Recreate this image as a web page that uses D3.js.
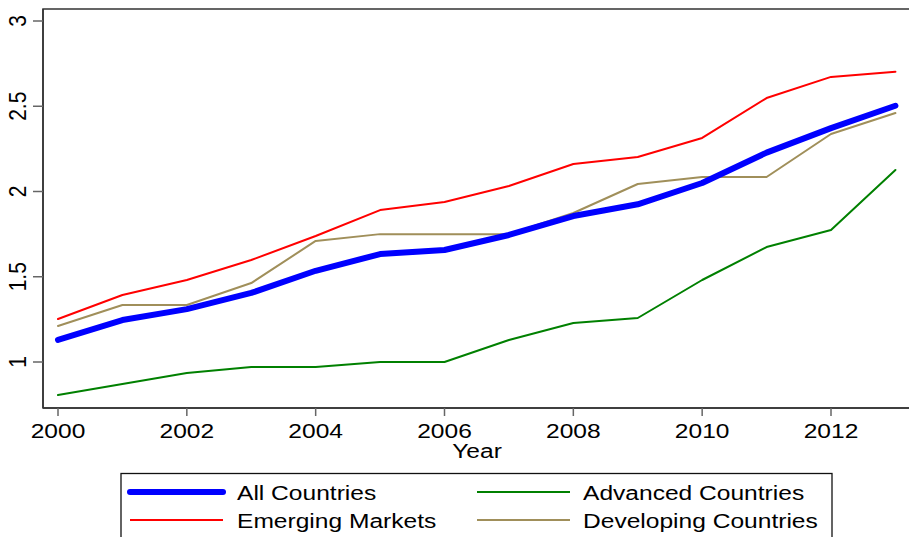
<!DOCTYPE html>
<html>
<head>
<meta charset="utf-8">
<script src="https://cdn.jsdelivr.net/npm/d3@7"></script>
<style>
  html, body { margin: 0; padding: 0; background: #fff; }
  svg { display: block; }
  text { font-family: "Liberation Sans", Arial, sans-serif; fill: #000; }
</style>
</head>
<body>
<svg id="chart" width="909" height="537"></svg>
<script>
const years = [2000, 2001, 2002, 2003, 2004, 2005, 2006, 2007, 2008, 2009, 2010, 2011, 2012, 2013];
const allCountries = [1.13, 1.246, 1.31, 1.405, 1.535, 1.633, 1.657, 1.745, 1.856, 1.925, 2.05, 2.228, 2.372, 2.503];
const emergingMarkets = [1.252, 1.393, 1.481, 1.598, 1.739, 1.891, 1.938, 2.032, 2.161, 2.202, 2.314, 2.548, 2.672, 2.703];
const advancedCountries = [0.806, 0.871, 0.935, 0.971, 0.971, 1.0, 1.0, 1.129, 1.229, 1.258, 1.481, 1.674, 1.774, 2.126];
const developingCountries = [1.211, 1.334, 1.334, 1.463, 1.71, 1.75, 1.75, 1.75, 1.874, 2.044, 2.085, 2.085, 2.337, 2.46];
const xTicks = [2000, 2002, 2004, 2006, 2008, 2010, 2012];
const yTicks = [1, 1.5, 2, 2.5, 3];
const yTickLabels = ["1", "1.5", "2", "2.5", "3"];
const xTitle = "Year";

const seriesList = [
  { name: "All Countries", values: allCountries, color: "#0000ff", width: 6 },
  { name: "Emerging Markets", values: emergingMarkets, color: "#ff0000", width: 2 },
  { name: "Advanced Countries", values: advancedCountries, color: "#008000", width: 2 },
  { name: "Developing Countries", values: developingCountries, color: "#a08f5a", width: 2 }
];

const svg = d3.select("#chart");
const SX = 1.17; // horizontal stretch of text in reference
const FS = 21;

const plotLeft = 43, plotTop = 9, plotBottom = 408, plotRight = 915;
const x = d3.scaleLinear().domain([2000, 2012]).range([58, 831]);
const y = d3.scaleLinear().domain([1, 3]).range([362, 21]);

// frame
svg.append("rect")
  .attr("x", plotLeft).attr("y", plotTop)
  .attr("width", plotRight - plotLeft).attr("height", plotBottom - plotTop)
  .attr("fill", "none").attr("stroke", "#333").attr("stroke-width", 1.5);

// lines (draw order: developing, advanced, emerging, all on top)
const line = d3.line().x((d, i) => x(years[i])).y(d => y(d));
const drawOrder = [3, 2, 1, 0];
drawOrder.forEach(k => {
  const s = seriesList[k];
  svg.append("path")
    .datum(s.values)
    .attr("d", line)
    .attr("fill", "none")
    .attr("stroke", s.color)
    .attr("stroke-width", s.width)
    .attr("stroke-linejoin", "round")
    .attr("stroke-linecap", "round");
});

// y axis
const yAxis = svg.append("g");
yAxis.append("line").attr("x1", plotLeft).attr("x2", plotLeft)
  .attr("y1", plotTop).attr("y2", plotBottom).attr("stroke", "#333").attr("stroke-width", 1.5);
yTicks.forEach((t, i) => {
  yAxis.append("line").attr("x1", 33).attr("x2", plotLeft)
    .attr("y1", y(t)).attr("y2", y(t)).attr("stroke", "#666").attr("stroke-width", 1.5);
  yAxis.append("text")
    .attr("transform", `translate(25.5,${y(t)}) scale(${SX},1) rotate(-90)`)
    .attr("text-anchor", "middle")
    .style("font-size", FS + "px")
    .text(yTickLabels[i]);
});

// x axis
const xAxis = svg.append("g");
xAxis.append("line").attr("x1", plotLeft).attr("x2", plotRight)
  .attr("y1", plotBottom).attr("y2", plotBottom).attr("stroke", "#333").attr("stroke-width", 1.5);
xTicks.forEach(t => {
  xAxis.append("line").attr("x1", x(t)).attr("x2", x(t))
    .attr("y1", plotBottom).attr("y2", plotBottom + 8).attr("stroke", "#666").attr("stroke-width", 1.5);
  xAxis.append("text")
    .attr("transform", `translate(${x(t)},438) scale(${SX},1)`)
    .attr("text-anchor", "middle")
    .style("font-size", FS + "px")
    .text(String(t));
});
svg.append("text")
  .attr("transform", `translate(477,458) scale(${SX},1)`)
  .attr("text-anchor", "middle")
  .style("font-size", FS + "px")
  .text(xTitle);

// legend
const leg = svg.append("g");
leg.append("rect").attr("x", 121).attr("y", 473.5)
  .attr("width", 711).attr("height", 80)
  .attr("fill", "#fff").attr("stroke", "#111").attr("stroke-width", 1.3);
const legPos = [
  { lx: 130, tx: 237, y: 492 },
  { lx: 130, tx: 237, y: 520 },
  { lx: 477, tx: 583, y: 492 },
  { lx: 477, tx: 583, y: 520 }
];
seriesList.forEach((s, i) => {
  const p = legPos[i];
  leg.append("line").attr("x1", p.lx).attr("x2", p.lx + 93)
    .attr("y1", p.y).attr("y2", p.y)
    .attr("stroke", s.color).attr("stroke-width", s.width)
    .attr("stroke-linecap", s.width > 3 ? "round" : "butt");
  leg.append("text")
    .attr("transform", `translate(${p.tx},${p.y + 7.5}) scale(${SX},1)`)
    .style("font-size", FS + "px")
    .text(s.name);
});
</script>
</body>
</html>
